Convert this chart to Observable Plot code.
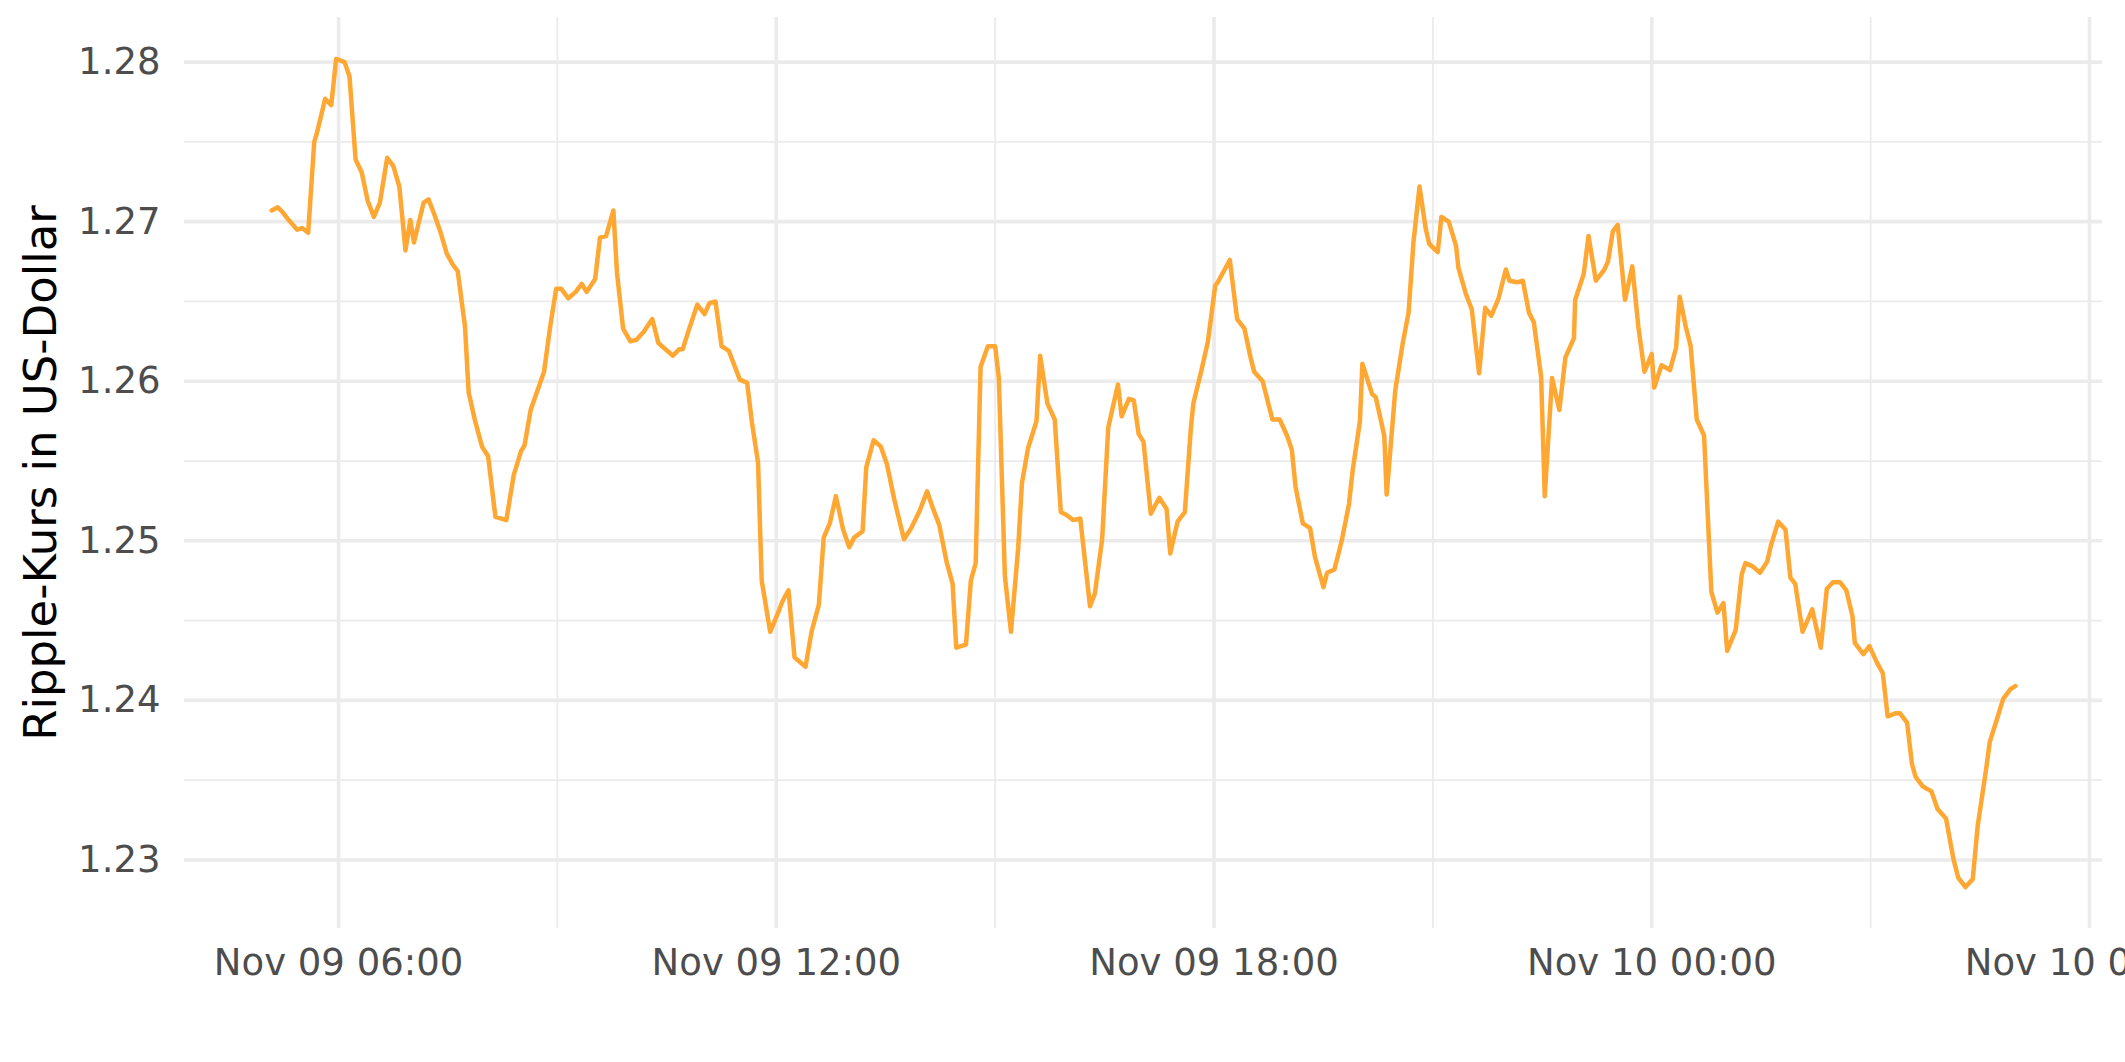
<!DOCTYPE html>
<html>
<head>
<meta charset="utf-8">
<script src="https://cdn.jsdelivr.net/npm/d3@7"></script>
<script src="https://cdn.jsdelivr.net/npm/@observablehq/plot@0.6"></script>
<style>
  html, body { margin: 0; padding: 0; background: #ffffff; }
  #chart svg { display: block; }
</style>
</head>
<body>
<div id="chart"></div>
<script>
// Timestamps (November 2021, "DD HH:MM", UTC)
const times = [
  "09 05:05","09 05:10","09 05:14","09 05:19","09 05:26","09 05:30","09 05:35","09 05:40","09 05:42","09 05:49",
  "09 05:54","09 05:58","09 06:05","09 06:09","09 06:14","09 06:19","09 06:24","09 06:29","09 06:34","09 06:40",
  "09 06:45","09 06:50","09 06:55","09 06:59","09 07:02","09 07:10","09 07:14","09 07:19","09 07:24","09 07:29",
  "09 07:34","09 07:38","09 07:44","09 07:47","09 07:52","09 07:58","09 08:03","09 08:09","09 08:18","09 08:24",
  "09 08:30","09 08:33","09 08:38","09 08:49","09 08:54","09 08:59","09 09:03","09 09:09","09 09:15","09 09:20",
  "09 09:24","09 09:31","09 09:35","09 09:40","09 09:46","09 09:49","09 09:54","09 10:00","09 10:05","09 10:11",
  "09 10:18","09 10:23","09 10:35","09 10:40","09 10:43","09 10:48","09 10:55","09 11:01","09 11:05","09 11:10",
  "09 11:15","09 11:21","09 11:30","09 11:36","09 11:40","09 11:45","09 11:48","09 11:55","09 12:01","09 12:05",
  "09 12:10","09 12:15","09 12:24","09 12:29","09 12:35","09 12:39","09 12:44","09 12:49","09 12:55","09 13:00",
  "09 13:04","09 13:11","09 13:14","09 13:20","09 13:26","09 13:31","09 13:37","09 13:45","09 13:51","09 13:58",
  "09 14:04","09 14:09","09 14:14","09 14:20","09 14:25","09 14:28","09 14:36","09 14:40","09 14:44","09 14:48",
  "09 14:54","09 15:00","09 15:03","09 15:08","09 15:13","09 15:19","09 15:22","09 15:27","09 15:34","09 15:37",
  "09 15:43","09 15:49","09 15:54","09 15:59","09 16:04","09 16:10","09 16:18","09 16:22","09 16:28","09 16:33",
  "09 16:41","09 16:44","09 16:50","09 16:54","09 16:58","09 17:02","09 17:08","09 17:15","09 17:21","09 17:24",
  "09 17:30","09 17:36","09 17:41","09 17:43","09 17:50","09 17:55","09 18:01","09 18:03","09 18:13","09 18:19",
  "09 18:25","09 18:30","09 18:33","09 18:40","09 18:44","09 18:48","09 18:54","09 19:00","09 19:04","09 19:07",
  "09 19:13","09 19:19","09 19:23","09 19:30","09 19:33","09 19:39","09 19:45","09 19:51","09 19:54","09 20:00",
  "09 20:02","09 20:10","09 20:13","09 20:20","09 20:22","09 20:29","09 20:35","09 20:40","09 20:44","09 20:49",
  "09 20:54","09 20:57","09 21:04","09 21:07","09 21:13","09 21:19","09 21:21","09 21:27","09 21:32","09 21:38",
  "09 21:43","09 21:48","09 21:54","09 22:00","09 22:03","09 22:09","09 22:14","09 22:19","09 22:23","09 22:29",
  "09 22:32","09 22:38","09 22:44","09 22:49","09 22:56","09 22:57","09 23:04","09 23:08","09 23:14","09 23:21",
  "09 23:24","09 23:28","09 23:32","09 23:38","09 23:44","09 23:49","09 23:54","10 00:00","10 00:02","10 00:08",
  "10 00:15","10 00:20","10 00:23","10 00:28","10 00:32","10 00:37","10 00:43","10 00:49","10 00:54","10 00:59",
  "10 01:02","10 01:09","10 01:14","10 01:17","10 01:23","10 01:29","10 01:35","10 01:38","10 01:44","10 01:50",
  "10 01:54","10 01:58","10 02:04","10 02:12","10 02:19","10 02:24","10 02:29","10 02:35","10 02:40","10 02:45",
  "10 02:47","10 02:54","10 02:59","10 03:05","10 03:10","10 03:14","10 03:21","10 03:24","10 03:30","10 03:34",
  "10 03:37","10 03:43","10 03:50","10 03:55","10 04:02","10 04:08","10 04:12","10 04:18","10 04:24","10 04:28",
  "10 04:35","10 04:38","10 04:43","10 04:49","10 04:55","10 04:59"
];

// Ripple price in US dollars
const prices = [
  1.2707,1.2709,1.2706,1.2701,1.2695,1.2696,1.2693,1.2750,1.2755,1.2777,
  1.2773,1.2802,1.2800,1.2791,1.2739,1.2731,1.2713,1.2703,1.2712,1.2740,
  1.2735,1.2722,1.2682,1.2701,1.2687,1.2712,1.2714,1.2704,1.2693,1.2680,
  1.2673,1.2669,1.2634,1.2593,1.2576,1.2559,1.2553,1.2515,1.2513,1.2541,
  1.2556,1.2560,1.2582,1.2606,1.2634,1.2658,1.2658,1.2652,1.2656,1.2661,
  1.2656,1.2664,1.2690,1.2691,1.2707,1.2668,1.2633,1.2625,1.2626,1.2631,
  1.2639,1.2624,1.2616,1.2620,1.2620,1.2632,1.2648,1.2642,1.2649,1.2650,
  1.2622,1.2619,1.2601,1.2599,1.2574,1.2549,1.2475,1.2443,1.2454,1.2462,
  1.2469,1.2427,1.2421,1.2443,1.2460,1.2502,1.2511,1.2528,1.2507,1.2496,
  1.2502,1.2506,1.2546,1.2563,1.2559,1.2548,1.2526,1.2501,1.2508,1.2519,
  1.2531,1.2520,1.2510,1.2487,1.2473,1.2433,1.2435,1.2475,1.2486,1.2609,
  1.2622,1.2622,1.2602,1.2478,1.2443,1.2496,1.2536,1.2558,1.2575,1.2616,
  1.2586,1.2576,1.2518,1.2516,1.2513,1.2514,1.2459,1.2467,1.2501,1.2571,
  1.2598,1.2578,1.2589,1.2588,1.2567,1.2562,1.2517,1.2527,1.2520,1.2492,
  1.2512,1.2518,1.2571,1.2586,1.2608,1.2625,1.2660,1.2662,1.2676,1.2639,
  1.2633,1.2615,1.2606,1.2600,1.2588,1.2576,1.2576,1.2566,1.2557,1.2534,
  1.2511,1.2508,1.2490,1.2471,1.2480,1.2482,1.2500,1.2523,1.2544,1.2575,
  1.2611,1.2592,1.2590,1.2566,1.2529,1.2594,1.2623,1.2643,1.2687,1.2722,
  1.2696,1.2686,1.2681,1.2703,1.2700,1.2685,1.2671,1.2655,1.2645,1.2605,
  1.2646,1.2641,1.2652,1.2670,1.2663,1.2662,1.2663,1.2643,1.2637,1.2603,
  1.2528,1.2602,1.2582,1.2615,1.2627,1.2651,1.2667,1.2691,1.2663,1.2670,
  1.2675,1.2694,1.2698,1.2651,1.2672,1.2634,1.2606,1.2617,1.2596,1.2610,
  1.2607,1.2621,1.2653,1.2634,1.2622,1.2576,1.2566,1.2468,1.2455,1.2461,
  1.2431,1.2444,1.2479,1.2486,1.2484,1.2480,1.2487,1.2497,1.2512,1.2507,
  1.2477,1.2473,1.2443,1.2457,1.2433,1.2470,1.2474,1.2474,1.2469,1.2453,
  1.2436,1.2429,1.2434,1.2424,1.2417,1.2390,1.2392,1.2392,1.2386,1.2360,
  1.2352,1.2346,1.2343,1.2332,1.2326,1.2301,1.2289,1.2283,1.2288,1.2321,
  1.2357,1.2374,1.2386,1.2401,1.2407,1.2409
];

// Axis ticks
const xMajorTicks = ["09 06:00","09 12:00","09 18:00","10 00:00","10 06:00"];
const xMinorTicks = ["09 09:00","09 15:00","09 21:00","10 03:00"];
const yMajorTicks = [1.23, 1.24, 1.25, 1.26, 1.27, 1.28];
const yMinorTicks = [1.235, 1.245, 1.255, 1.265, 1.275];

const yTitle = "Ripple-Kurs in US-Dollar";
const lineColor = "#FFA733";

const parse = d3.utcParse("%Y-%m-%d %H:%M");
const toDate = s => parse("2021-11-" + s);
const data = times.map((t, i) => ({date: toDate(t), price: prices[i]}));

// ggplot-style 5% expansion
const xe = d3.extent(data, d => d.date);
const xPad = (xe[1] - xe[0]) * 0.05;
const xDomain = [new Date(+xe[0] - xPad), new Date(+xe[1] + xPad)];
const ye = d3.extent(prices);
const yPad = (ye[1] - ye[0]) * 0.05;
const yDomain = [ye[0] - yPad, ye[1] + yPad];

const grid = "#EBEBEB";
const font = "DejaVu Sans";

const chart = Plot.plot({
  width: 2125,
  height: 1062,
  marginLeft: 184,
  marginRight: 23,
  marginTop: 17,
  marginBottom: 134,
  style: {fontFamily: font, background: "#ffffff", color: "#4D4D4D"},
  x: {type: "utc", domain: xDomain},
  y: {domain: yDomain},
  marks: [
    Plot.ruleY(yMinorTicks, {stroke: grid, strokeWidth: 1.8}),
    Plot.ruleX(xMinorTicks.map(toDate), {stroke: grid, strokeWidth: 1.8}),
    Plot.ruleY(yMajorTicks, {stroke: grid, strokeWidth: 3.6}),
    Plot.ruleX(xMajorTicks.map(toDate), {stroke: grid, strokeWidth: 3.6}),
    Plot.axisX(xMajorTicks.map(toDate), {
      tickSize: 0, tickPadding: 20, fontSize: 37, fill: "#4D4D4D",
      tickFormat: d3.utcFormat("%b %d %H:%M"), label: null
    }),
    Plot.axisY(yMajorTicks, {
      tickSize: 0, tickPadding: 24, fontSize: 37, fill: "#4D4D4D",
      tickFormat: d3.format(".2f"), label: null
    }),
    Plot.text([yTitle], {
      frameAnchor: "left", dx: -143, rotate: -90,
      fontSize: 45, fill: "#000000", textAnchor: "middle", lineAnchor: "middle"
    }),
    Plot.line(data, {x: "date", y: "price", stroke: lineColor, strokeWidth: 4.5})
  ]
});
document.getElementById("chart").appendChild(chart);
</script>
</body>
</html>
